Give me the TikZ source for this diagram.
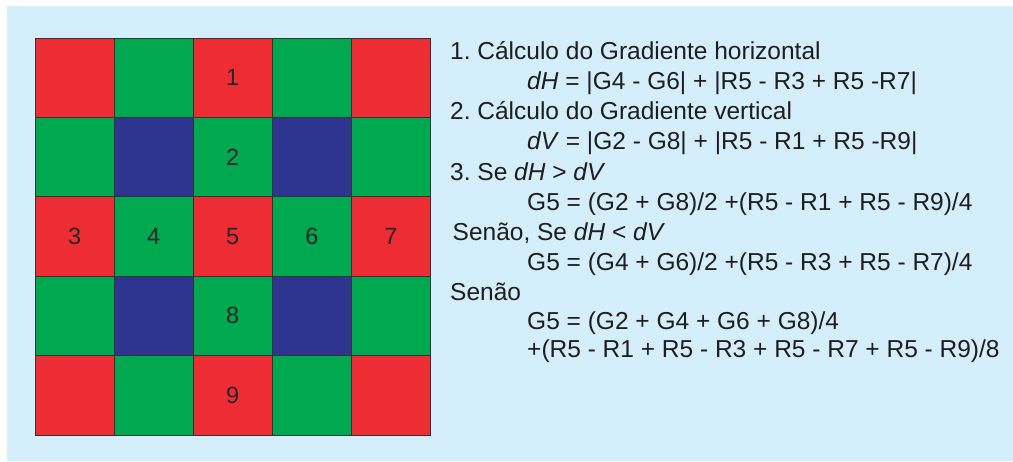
\documentclass[tikz,border=0pt]{standalone}
\usepackage{fontspec}
\setmainfont{Liberation Sans}
\definecolor{bg}{HTML}{D4EEFB}
\definecolor{bred}{HTML}{EE2C34}
\definecolor{bgreen}{HTML}{00A84F}
\definecolor{bblue}{HTML}{2E3591}
\definecolor{ink}{HTML}{1E1E1E}
\frenchspacing
\begin{document}
\begin{tikzpicture}[x=1pt,y=-1pt,
  cell/.style={draw=black!80,line width=1pt,minimum width=79.1pt,minimum height=79.4pt,inner sep=0pt,font=\fontsize{23.5}{23.5}\selectfont,text=black!85},
  txt/.style={anchor=base west,inner sep=0pt,font=\fontsize{24.5}{24.5}\selectfont,text=ink}]
\useasboundingbox (0,0) rectangle (1013,461);
\fill[white] (0,0) rectangle (1013,461);
\fill[bg] (7,6) rectangle (1013,461);
\foreach \r/\c/\col/\t in {
  0/0/bred/{},0/1/bgreen/{},0/2/bred/1,0/3/bgreen/{},0/4/bred/{},
  1/0/bgreen/{},1/1/bblue/{},1/2/bgreen/2,1/3/bblue/{},1/4/bgreen/{},
  2/0/bred/3,2/1/bgreen/4,2/2/bred/5,2/3/bgreen/6,2/4/bred/7,
  3/0/bgreen/{},3/1/bblue/{},3/2/bgreen/8,3/3/bblue/{},3/4/bgreen/{},
  4/0/bred/{},4/1/bgreen/{},4/2/bred/9,4/3/bgreen/{},4/4/bred/{}}
  \node[cell,fill=\col] (cell-\r-\c) at ({35+79.1*\c+39.55},{38+79.4*\r+39.7}) {\t};
\node[txt] (l1) at (450,59) {1. Cálculo do Gradiente horizontal};
\node[txt] (l2) at (527,89.3) {\textit{dH} = |G4 - G6| + |R5 - R3 + R5 -R7|};
\node[txt] (l3) at (450,119.5) {2. Cálculo do Gradiente vertical};
\node[txt] (l4) at (527,149.8) {\textit{dV} = |G2 - G8| + |R5 - R1 + R5 -R9|};
\node[txt] (l5) at (450,180) {3. Se \textit{dH} > \textit{dV}};
\node[txt] (l6) at (527,210) {G5 = (G2 + G8)/2 +(R5 - R1 + R5 - R9)/4};
\node[txt] (l7) at (452.5,240) {Senão, Se \textit{dH} < \textit{dV}};
\node[txt] (l8) at (527,270) {G5 = (G4 + G6)/2 +(R5 - R3 + R5 - R7)/4};
\node[txt] (l9) at (450,300) {Senão};
\node[txt] (l10) at (527,329.5) {G5 = (G2 + G4 + G6 + G8)/4};
\node[txt] (l11) at (527,357) {+(R5 - R1 + R5 - R3 + R5 - R7 + R5 - R9)/8};
\end{tikzpicture}
\end{document}
